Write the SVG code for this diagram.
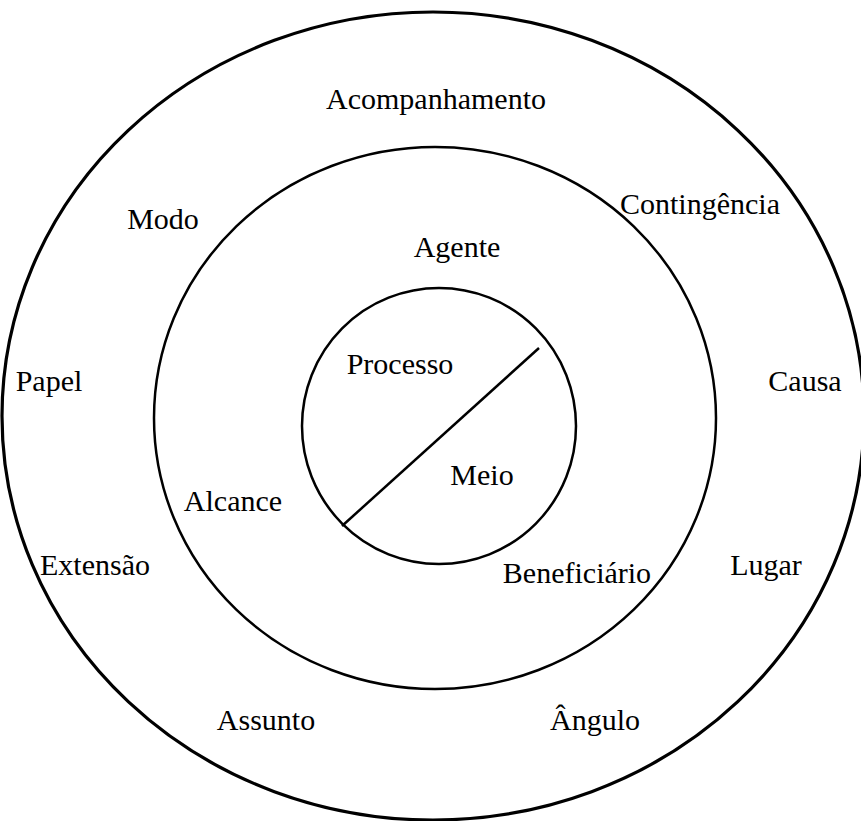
<svg xmlns="http://www.w3.org/2000/svg" width="861" height="821" viewBox="0 0 861 821">
<style>
.ring{fill:none;stroke:#000;}
.lbl{font-family:"Liberation Serif","Times New Roman",serif;font-size:30px;fill:#000;text-anchor:middle;}
</style>
<rect width="861" height="821" fill="#fff"/>
<g id="outer">
<ellipse class="ring" cx="433" cy="416" rx="431" ry="404" stroke-width="3.2"/>
<text class="lbl" x="436" y="109">Acompanhamento</text>
<text class="lbl" x="163" y="229">Modo</text>
<text class="lbl" x="700" y="214">Contingência</text>
<text class="lbl" x="49" y="391">Papel</text>
<text class="lbl" x="805" y="391">Causa</text>
<text class="lbl" x="95" y="575">Extensão</text>
<text class="lbl" x="766" y="575">Lugar</text>
<text class="lbl" x="266" y="730">Assunto</text>
<text class="lbl" x="595" y="730">Ângulo</text>
</g>
<g id="middle">
<ellipse class="ring" cx="435" cy="418" rx="281" ry="271" stroke-width="2.5"/>
<text class="lbl" x="457" y="257">Agente</text>
<text class="lbl" x="233" y="511">Alcance</text>
<text class="lbl" x="577" y="583">Beneficiário</text>
</g>
<g id="inner">
<ellipse class="ring" cx="439" cy="426" rx="137" ry="138" stroke-width="2.5"/>
<text class="lbl" x="400" y="374">Processo</text>
<text class="lbl" x="482" y="485">Meio</text>
</g>
<g id="connectors">
<line x1="342" y1="526" x2="539" y2="348" stroke="#000" stroke-width="2.5"/>
</g>
</svg>
